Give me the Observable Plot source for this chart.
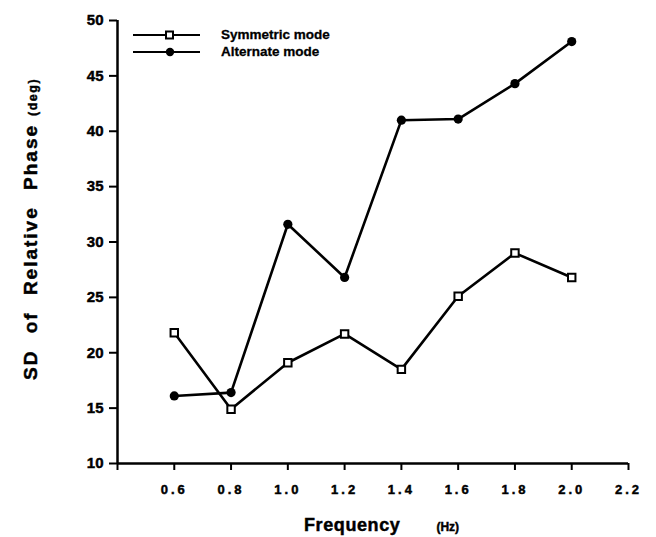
<!DOCTYPE html>
<html>
<head>
<meta charset="utf-8">
<script src="https://cdn.jsdelivr.net/npm/d3@7"></script>
<script src="https://cdn.jsdelivr.net/npm/@observablehq/plot@0.6"></script>
<style>
  html, body { margin: 0; padding: 0; background: #fff; overflow: hidden; }
  #chart { position: relative; width: 656px; height: 537px; }
  #chart svg text { stroke: #000; stroke-width: 0.45px; }
  .legend { position: absolute; left: 133px; top: 26px; font: bold 13.5px "Liberation Sans", Arial, sans-serif; color: #000; -webkit-text-stroke: 0.3px #000; }
  .legend .row { display: flex; align-items: center; height: 17px; }
  .legend svg { display: block; }
  .legend span { margin-left: 20px; }
</style>
</head>
<body>
<div id="chart"></div>
<script>
// Frequency (Hz) of the oscillation conditions
const frequency = [0.6, 0.8, 1.0, 1.2, 1.4, 1.6, 1.8, 2.0];
// SD of relative phase (deg) per mode
const symmetricSD = [21.8, 14.9, 19.1, 21.7, 18.5, 25.1, 29.0, 26.8];
const alternateSD = [16.1, 16.4, 31.6, 26.8, 41.0, 41.1, 44.3, 48.1];
// Axis ticks
const xTicks = [0.4, 0.6, 0.8, 1.0, 1.2, 1.4, 1.6, 1.8, 2.0, 2.2];
const yTicks = [10, 15, 20, 25, 30, 35, 40, 45, 50];

const symmetric = frequency.map((f, i) => ({f, sd: symmetricSD[i]}));
const alternate = frequency.map((f, i) => ({f, sd: alternateSD[i]}));

const font = '"Liberation Sans", Arial, sans-serif';

const plot = Plot.plot({
  width: 656,
  height: 537,
  marginLeft: 117,
  marginRight: 28,
  marginTop: 20,
  marginBottom: 74,
  style: {fontFamily: font, fontWeight: "bold", color: "#000", background: "#fff"},
  x: {domain: [0.4, 2.2]},
  y: {domain: [10, 50]},
  marks: [
    Plot.axisX({
      ticks: xTicks, tickSize: 7, tickPadding: 14, fontSize: 13,
      tickFormat: d => d === 0.4 ? "" : d3.format(".1f")(d),
      strokeWidth: 2, label: null
    }),
    Plot.axisY({
      ticks: yTicks, tickSize: 8, tickPadding: 6, fontSize: 15,
      strokeWidth: 2, label: null
    }),
    Plot.ruleY([10], {strokeWidth: 2.5}),
    Plot.ruleX([0.4], {strokeWidth: 2.5}),
    Plot.line(alternate, {x: "f", y: "sd", stroke: "#000", strokeWidth: 2.6}),
    Plot.line(symmetric, {x: "f", y: "sd", stroke: "#000", strokeWidth: 2.6}),
    Plot.dot(alternate, {x: "f", y: "sd", r: 4.6, fill: "#000", stroke: "none"}),
    Plot.dot(symmetric, {x: "f", y: "sd", r: 4.2, symbol: "square", fill: "#fff", stroke: "#000", strokeWidth: 2})
  ]
});

// letter-spaced x tick labels
d3.select(plot).selectAll('[aria-label="x-axis tick label"] text')
  .style("letter-spacing", "3px");

const svg = d3.select(plot);

// x axis title
const xt = svg.append("text")
  .attr("x", 304).attr("y", 531)
  .attr("text-anchor", "start")
  .style("font-family", font).style("font-weight", "bold");
xt.append("tspan").text("Frequency").style("font-size", "18px").style("letter-spacing", "0.6px");
xt.append("tspan").text("(Hz)").attr("dx", 36).style("font-size", "12px");

// y axis title
const yt = svg.append("text")
  .attr("transform", "translate(37,380) rotate(-90)")
  .attr("text-anchor", "start")
  .style("font-family", font).style("font-weight", "bold");
yt.append("tspan").text("SD of Relative Phase").style("font-size", "19px")
  .style("letter-spacing", "2px").style("word-spacing", "9px");
yt.append("tspan").text("(deg)").attr("dx", 8).style("font-size", "12.5px").style("letter-spacing", "1.5px");

const chart = document.getElementById("chart");
chart.append(plot);

// legend
const legend = d3.select(chart).append("div").attr("class", "legend");
const items = [
  {name: "Symmetric mode", square: true},
  {name: "Alternate mode", square: false}
];
items.forEach(it => {
  const row = legend.append("div").attr("class", "row");
  const s = row.append("svg").attr("width", 68).attr("height", 12);
  s.append("line").attr("x1", 0).attr("x2", 67).attr("y1", 6).attr("y2", 6)
    .attr("stroke", "#000").attr("stroke-width", 2);
  if (it.square) {
    s.append("rect").attr("x", 33).attr("y", 2.5).attr("width", 7).attr("height", 7)
      .attr("fill", "#fff").attr("stroke", "#000").attr("stroke-width", 2);
  } else {
    s.append("circle").attr("cx", 37).attr("cy", 6).attr("r", 4.2).attr("fill", "#000");
  }
  row.append("span").text(it.name);
});
</script>
</body>
</html>
